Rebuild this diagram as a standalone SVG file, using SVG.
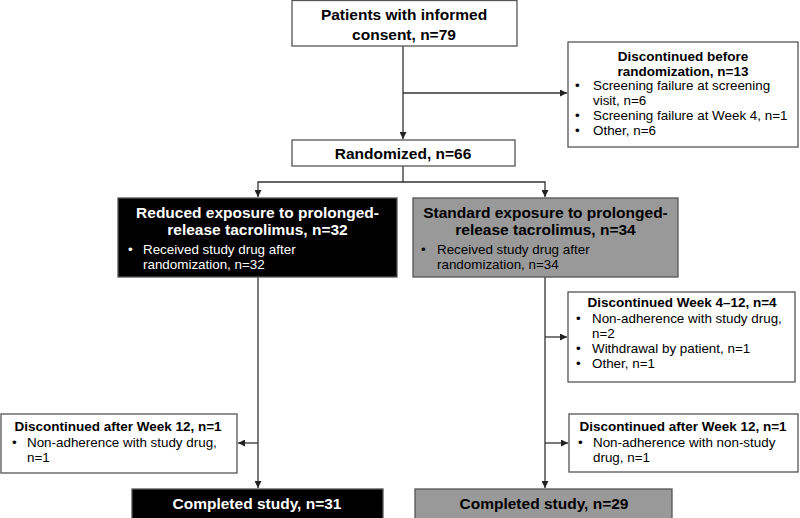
<svg xmlns="http://www.w3.org/2000/svg" width="800" height="518" viewBox="0 0 800 518">
<defs>
<marker id="ah" viewBox="0 0 10 10" refX="10" refY="5" markerWidth="7" markerHeight="7" markerUnits="userSpaceOnUse" orient="auto">
<path d="M0,0 L10,5 L0,10 z" fill="#222"/>
</marker>
<style>
text{font-family:"Liberation Sans",Arial,sans-serif;}
.box{fill:#fff;stroke:#555;stroke-width:1.3;}
.blk{fill:#000;stroke:#555;stroke-width:1.3;}
.gry{fill:#999;stroke:#555;stroke-width:1.3;}
.tb{font-size:15.5px;font-weight:bold;text-anchor:middle;fill:#000;}
.ts{font-size:13.5px;font-weight:bold;text-anchor:middle;fill:#000;}
.tx{font-size:13.4px;fill:#000;}
.w{fill:#fff;}
.ln{fill:none;stroke:#333;stroke-width:1.3;}
</style>
</defs>

<g id="connectors">
<path class="ln" d="M403,46 V139" marker-end="url(#ah)"/>
<path class="ln" d="M403,93 H567" marker-end="url(#ah)"/>
<path class="ln" d="M403,166 V182 H258 V197" marker-end="url(#ah)"/>
<path class="ln" d="M403,182 H545 V197" marker-end="url(#ah)"/>
<path class="ln" d="M258,277 V488" marker-end="url(#ah)"/>
<path class="ln" d="M258,443 H238" marker-end="url(#ah)"/>
<path class="ln" d="M545,277 V488" marker-end="url(#ah)"/>
<path class="ln" d="M545,337 H567" marker-end="url(#ah)"/>
<path class="ln" d="M545,443 H568" marker-end="url(#ah)"/>
</g>

<g id="consent">
<rect class="box" x="292" y="0.5" width="225" height="45.5"/>
<text class="tb" x="404" y="20">Patients with informed</text>
<text class="tb" x="404" y="39.5">consent, n=79</text>
</g>

<g id="disc-before">
<rect class="box" x="568" y="42" width="230" height="105"/>
<text class="ts" x="683" y="61">Discontinued before</text>
<text class="ts" x="683" y="75.5">randomization, n=13</text>
<text class="tx" x="575" y="90">•</text>
<text class="tx" x="593" y="90">Screening failure at screening</text>
<text class="tx" x="593" y="105">visit, n=6</text>
<text class="tx" x="575" y="120">•</text>
<text class="tx" x="593" y="120">Screening failure at Week 4, n=1</text>
<text class="tx" x="575" y="134.5">•</text>
<text class="tx" x="593" y="134.5">Other, n=6</text>
</g>

<g id="randomized">
<rect class="box" x="292" y="140" width="223" height="26"/>
<text class="tb" x="403" y="158.5">Randomized, n=66</text>
</g>

<g id="reduced">
<rect class="blk" x="118" y="198" width="279" height="79"/>
<text class="tb w" x="257.5" y="218">Reduced exposure to prolonged-</text>
<text class="tb w" x="257.5" y="235">release tacrolimus, n=32</text>
<text class="tx w" x="128" y="254">•</text>
<text class="tx w" x="143" y="254">Received study drug after</text>
<text class="tx w" x="143" y="269">randomization, n=32</text>
</g>

<g id="standard">
<rect class="gry" x="413" y="198" width="265" height="79"/>
<text class="tb" x="545.5" y="218">Standard exposure to prolonged-</text>
<text class="tb" x="545.5" y="235">release tacrolimus, n=34</text>
<text class="tx" x="421" y="254">•</text>
<text class="tx" x="437" y="254">Received study drug after</text>
<text class="tx" x="437" y="269">randomization, n=34</text>
</g>

<g id="disc-4-12">
<rect class="box" x="568" y="292" width="227" height="90"/>
<text class="ts" x="682" y="307">Discontinued Week 4–12, n=4</text>
<text class="tx" x="576" y="323">•</text>
<text class="tx" x="592" y="323">Non-adherence with study drug,</text>
<text class="tx" x="592" y="338">n=2</text>
<text class="tx" x="576" y="353">•</text>
<text class="tx" x="592" y="353">Withdrawal by patient, n=1</text>
<text class="tx" x="576" y="368">•</text>
<text class="tx" x="592" y="368">Other, n=1</text>
</g>

<g id="disc-after-left">
<rect class="box" x="1" y="414" width="236" height="59"/>
<text class="ts" x="118" y="431">Discontinued after Week 12, n=1</text>
<text class="tx" x="12" y="447">•</text>
<text class="tx" x="27" y="447">Non-adherence with study drug,</text>
<text class="tx" x="27" y="462">n=1</text>
</g>

<g id="disc-after-right">
<rect class="box" x="569" y="414" width="229" height="58"/>
<text class="ts" x="683" y="431">Discontinued after Week 12, n=1</text>
<text class="tx" x="578" y="447">•</text>
<text class="tx" x="593" y="447">Non-adherence with non-study</text>
<text class="tx" x="593" y="462">drug, n=1</text>
</g>

<g id="completed-left">
<rect class="blk" x="132" y="489" width="251" height="32"/>
<text class="tb w" x="257" y="508.5">Completed study, n=31</text>
</g>

<g id="completed-right">
<rect class="gry" x="415" y="489" width="257" height="32"/>
<text class="tb" x="544" y="508.5">Completed study, n=29</text>
</g>
</svg>
